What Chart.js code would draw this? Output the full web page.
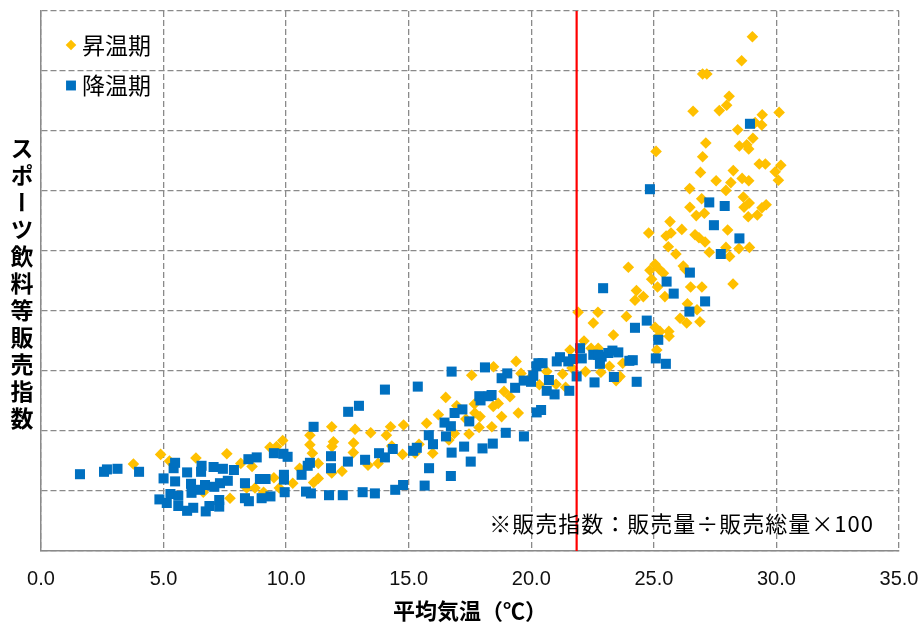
<!DOCTYPE html>
<html lang="ja">
<head>
<meta charset="utf-8">
<title>スポーツ飲料等販売指数と平均気温</title>
<script src="https://cdn.jsdelivr.net/npm/chart.js@4.4.1/dist/chart.umd.min.js"></script>
<style>
  html, body { margin: 0; padding: 0; background: #ffffff; }
  #wrap { position: relative; width: 922px; height: 624px; }
  #yTitle {
    position: absolute; left: 10px; top: 137px;
    writing-mode: vertical-rl; text-orientation: upright;
    font: bold 23px 'Noto Sans CJK JP', sans-serif;
    letter-spacing: 4px; line-height: 24px; color: #000;
  }
</style>
</head>
<body>
<div id="wrap">
  <canvas id="chart" width="922" height="624"></canvas>
  <div id="yTitle">スポーツ飲料等販売指数</div>
</div>
<script>
// 昇温期 (rising-temperature season): daily mean temperature (°C) and sales index
const riseTemp = [
  3.77, 4.88, 5.24, 6.32, 6.62, 7.58, 7.71, 8.15, 8.61, 8.39, 8.73, 9.08, 9.34, 9.61, 9.86, 9.50,
  9.72, 10.27, 10.55, 10.97, 10.97, 11.07, 11.31, 11.12, 11.31, 11.86, 11.93, 11.87, 11.86, 12.28,
  12.81, 12.75, 12.74, 13.45, 13.34, 13.75, 14.09, 14.26, 14.31, 14.79, 14.75, 15.26, 15.42, 15.73,
  15.98, 16.21, 16.51, 16.64, 16.86, 17.33, 17.68, 17.70, 17.46, 17.87, 17.91, 18.39, 18.45, 18.65,
  18.79, 18.89, 19.13, 19.47, 19.38, 19.58, 20.02, 20.33, 20.63, 21.01, 21.28, 21.40, 21.66, 21.91,
  22.15, 22.21, 22.44, 22.72, 22.53, 23.35, 22.84, 23.19, 22.73, 21.58, 23.46, 23.62, 23.73, 23.88,
  23.96, 24.29, 24.23, 24.57, 24.79, 24.84, 25.05, 25.21, 25.39, 24.91, 25.15, 25.45, 25.50, 25.70,
  25.59, 25.90, 26.20, 26.27, 26.50, 26.96, 28.23, 26.37, 26.76, 26.07, 26.34, 26.88, 25.05, 25.25,
  25.18, 25.61, 25.62, 25.12, 25.09, 26.99, 26.90, 28.24, 27.54, 28.14, 28.60, 28.87, 29.30, 29.55,
  29.95, 30.08, 30.18, 26.46, 27.94, 26.95, 26.47, 28.65, 28.89, 28.68, 29.41, 29.58, 29.22, 28.85,
  26.73, 27.06, 25.66, 26.14, 26.68, 26.84, 27.09, 28.01, 27.26, 27.94, 28.09, 28.47, 28.90, 29.02,
  28.58, 26.99, 27.16, 28.07, 27.97, 27.67, 26.60, 30.11, 29.42, 29.40, 29.13, 28.42, 29.04, 28.79,
  28.49, 28.87, 27.12, 18.46, 17.57, 16.96
];
const riseIndex = [
  0.145, 0.161, 0.150, 0.155, 0.098, 0.162, 0.088, 0.146, 0.141, 0.105, 0.105, 0.098, 0.173, 0.174, 0.184, 0.122,
  0.105, 0.113, 0.138, 0.193, 0.177, 0.163, 0.146, 0.114, 0.121, 0.207, 0.182, 0.174, 0.130, 0.133,
  0.203, 0.180, 0.164, 0.197, 0.143, 0.146, 0.193, 0.207, 0.175, 0.210, 0.161, 0.163, 0.178, 0.213,
  0.163, 0.227, 0.256, 0.185, 0.196, 0.220, 0.245, 0.230, 0.195, 0.206, 0.224, 0.207, 0.241, 0.246,
  0.224, 0.266, 0.257, 0.230, 0.316, 0.296, 0.291, 0.277, 0.299, 0.278, 0.295, 0.273, 0.305, 0.398,
  0.350, 0.299, 0.338, 0.398, 0.380, 0.360, 0.298, 0.308, 0.338, 0.335, 0.284, 0.291, 0.313, 0.391,
  0.473, 0.434, 0.418, 0.424, 0.530, 0.468, 0.478, 0.470, 0.463, 0.453, 0.440, 0.424, 0.525, 0.530,
  0.507, 0.495, 0.475, 0.470, 0.440, 0.440, 0.445, 0.412, 0.402, 0.388, 0.380, 0.382, 0.373, 0.366,
  0.358, 0.366, 0.358, 0.335, 0.666, 0.657, 0.631, 0.634, 0.617, 0.614, 0.621, 0.617, 0.645, 0.645,
  0.632, 0.618, 0.643, 0.604, 0.601, 0.587, 0.573, 0.590, 0.580, 0.573, 0.572, 0.577, 0.560, 0.557,
  0.559, 0.563, 0.549, 0.536, 0.527, 0.522, 0.515, 0.535, 0.498, 0.506, 0.491, 0.504, 0.506, 0.857,
  0.817, 0.795, 0.795, 0.758, 0.743, 0.734, 0.733, 0.731, 0.727, 0.710, 0.714, 0.702, 0.688, 0.677,
  0.675, 0.670, 0.680, 0.307, 0.293, 0.242
];

// 降温期 (falling-temperature season)
const fallTemp = [
  1.59, 2.57, 2.69, 3.12, 4.00, 4.83, 5.00, 5.13, 5.28, 5.41, 5.47, 5.47, 5.60, 5.60, 5.96, 5.96,
  6.12, 6.14, 6.21, 6.49, 6.55, 6.53, 6.69, 6.72, 6.87, 7.04, 7.07, 7.30, 7.27, 7.27, 7.42, 7.62,
  7.87, 8.32, 8.32, 8.48, 8.46, 8.80, 8.93, 9.16, 9.00, 9.36, 9.50, 9.89, 10.06, 9.91, 9.91, 9.94,
  10.63, 10.81, 11.01, 10.88, 10.97, 11.12, 11.83, 11.83, 11.75, 12.31, 12.52, 12.53, 12.97, 13.12,
  13.22, 13.62, 13.79, 14.03, 14.03, 14.35, 14.45, 14.77, 15.18, 15.33, 15.37, 15.65, 15.83, 15.82,
  15.99, 16.46, 16.72, 16.52, 16.75, 16.72, 16.87, 17.19, 16.75, 17.26, 17.53, 17.47, 17.88, 17.93,
  18.26, 18.38, 18.01, 18.43, 18.11, 18.79, 19.02, 19.34, 18.96, 19.70, 19.69, 19.99, 20.08, 20.21,
  20.29, 20.46, 20.22, 20.40, 20.72, 20.63, 20.95, 21.04, 21.17, 21.55, 21.51, 21.70, 21.85, 21.99,
  22.06, 22.58, 22.53, 22.73, 22.87, 22.80, 23.14, 23.31, 23.55, 23.37, 22.93, 24.00, 24.14, 24.30,
  24.23, 24.71, 25.18, 25.08, 25.49, 25.52, 25.81, 24.84, 26.47, 26.45, 27.09, 27.26, 27.89, 27.45,
  28.49, 27.73, 28.92
];
const fallIndex = [
  0.128, 0.132, 0.136, 0.137, 0.132, 0.086, 0.121, 0.080, 0.095, 0.138, 0.147, 0.116, 0.092, 0.075, 0.131, 0.067,
  0.112, 0.097, 0.072, 0.102, 0.142, 0.132, 0.110, 0.066, 0.075, 0.140, 0.107, 0.113, 0.085, 0.074, 0.137, 0.117,
  0.135, 0.113, 0.088, 0.083, 0.153, 0.156, 0.120, 0.120, 0.088, 0.091, 0.163, 0.162, 0.157, 0.127, 0.119, 0.098,
  0.127, 0.099, 0.096, 0.142, 0.147, 0.207, 0.158, 0.138, 0.093, 0.093, 0.149, 0.232, 0.242, 0.098,
  0.152, 0.096, 0.163, 0.156, 0.269, 0.170, 0.102, 0.110, 0.167, 0.172, 0.274, 0.109, 0.138, 0.193,
  0.178, 0.214, 0.208, 0.191, 0.164, 0.125, 0.230, 0.236, 0.299, 0.174, 0.149, 0.216, 0.258, 0.251,
  0.258, 0.260, 0.171, 0.179, 0.306, 0.288, 0.296, 0.272, 0.197, 0.191, 0.284, 0.282, 0.292, 0.308,
  0.313, 0.313, 0.231, 0.235, 0.285, 0.267, 0.261, 0.316, 0.323, 0.267, 0.316, 0.320, 0.291, 0.338,
  0.321, 0.281, 0.327, 0.327, 0.324, 0.312, 0.330, 0.334, 0.331, 0.290, 0.438, 0.317, 0.318, 0.282,
  0.372, 0.384, 0.352, 0.321, 0.312, 0.449, 0.429, 0.603, 0.464, 0.399, 0.416, 0.581, 0.575, 0.543,
  0.521, 0.495, 0.712
];

// Temperature marked by the vertical red reference line
const refTemp = [21.85];

// Axis settings
const xTicks = [0, 5, 10, 15, 20, 25, 30, 35];
const yGrid = [0, 0.9, 0.1];   // min, max, step

const seriesNames = ['昇温期', '降温期'];
const xTitle = '平均気温（℃）';
const noteText = '※販売指数：販売量÷販売総量×100';

const toPoints = (xs, ys) => xs.map((x, i) => ({ x, y: ys[i] }));

const GRID = '#8a8a8a';
const LABEL_FONT = "'Liberation Sans', 'Noto Sans CJK JP', sans-serif";
const CJK_FONT = "'Noto Sans CJK JP', sans-serif";

// Legend drawn inside the plot area, top-left, plus the formula note
const insideLegend = {
  id: 'insideLegend',
  afterDatasetsDraw(chart) {
    const { ctx, chartArea } = chart;
    ctx.save();
    let row = 0;
    chart.data.datasets.forEach(ds => {
      if (!ds.inLegend) return;
      const y = chartArea.top + 34 + row * 40.5;
      ctx.fillStyle = ds.backgroundColor;
      Chart.helpers.drawPoint(ctx, {
        pointStyle: ds.pointStyle, radius: ds.legendRadius, borderWidth: 0, rotation: 0
      }, chartArea.left + 30, y);
      ctx.fillStyle = '#000';
      ctx.font = '23px ' + CJK_FONT;
      ctx.textAlign = 'left';
      ctx.textBaseline = 'middle';
      ctx.fillText(ds.label, chartArea.left + 41, y);
      row++;
    });
    ctx.font = '22px ' + CJK_FONT;
    if ('letterSpacing' in ctx) ctx.letterSpacing = '1px';
    ctx.textAlign = 'right';
    ctx.fillStyle = '#000';
    ctx.fillText(noteText, chartArea.right - 25, chartArea.bottom - 27);
    ctx.restore();
  }
};

function draw() {
  new Chart(document.getElementById('chart'), {
    type: 'scatter',
    data: {
      datasets: [
        {
          label: seriesNames[0], data: toPoints(riseTemp, riseIndex),
          pointStyle: 'rectRot', pointRadius: 5.8, pointHoverRadius: 5.8, legendRadius: 5.3,
          backgroundColor: '#FFC000', borderWidth: 0, inLegend: true, order: 3
        },
        {
          label: seriesNames[1], data: toPoints(fallTemp, fallIndex),
          pointStyle: 'rect', pointRadius: 7.1, pointHoverRadius: 7.1, legendRadius: 7,
          backgroundColor: '#0070C0', borderWidth: 0, inLegend: true, order: 2
        },
        {
          label: 'ref', data: [{ x: refTemp[0], y: yGrid[0] }, { x: refTemp[0], y: yGrid[1] }],
          showLine: true, borderColor: '#FF0000', borderWidth: 2.2, pointRadius: 0,
          backgroundColor: '#FF0000', fill: false, order: 1
        }
      ]
    },
    options: {
      responsive: false,
      animation: false,
      layout: { padding: { top: 11, right: 23, left: 0, bottom: 0 } },
      plugins: { legend: { display: false }, tooltip: { enabled: false } },
      scales: {
        x: {
          type: 'linear', min: xTicks[0], max: xTicks[xTicks.length - 1],
          afterBuildTicks(scale) { scale.ticks = xTicks.map(v => ({ value: v })); },
          afterFit(scale) {
            scale.height = 73;
            scale.paddingLeft = 0;
            scale.paddingRight = 0;
          },
          ticks: {
            callback: v => Number(v).toFixed(1),
            color: '#111', padding: 16, maxRotation: 0,
            font: { family: LABEL_FONT, size: 20 }
          },
          grid: { color: GRID, lineWidth: 1.3, drawTicks: false },
          border: { color: GRID, width: 1.5, dash: [6, 3] },
          title: {
            display: true, text: xTitle, color: '#000',
            font: { family: CJK_FONT, size: 22, weight: 'bold' },
            padding: { top: 0, bottom: 0 }
          }
        },
        y: {
          type: 'linear', min: yGrid[0], max: yGrid[1],
          afterFit(scale) { scale.width = 41; },
          ticks: { stepSize: yGrid[2], display: false },
          grid: { color: GRID, lineWidth: 1.3, drawTicks: false },
          border: { color: GRID, width: 1.5, dash: [6, 3] }
        }
      }
    },
    plugins: [insideLegend]
  });
}

const fontsReady = document.fonts
  ? Promise.all([
      document.fonts.load('23px "Noto Sans CJK JP"', '昇温期降温期※販売指数'),
      document.fonts.load('bold 22px "Noto Sans CJK JP"', '平均気温'),
      document.fonts.load('20px "Liberation Sans"', '0123456789.')
    ]).catch(() => null)
  : Promise.resolve();
fontsReady.then(draw);
</script>
</body>
</html>
